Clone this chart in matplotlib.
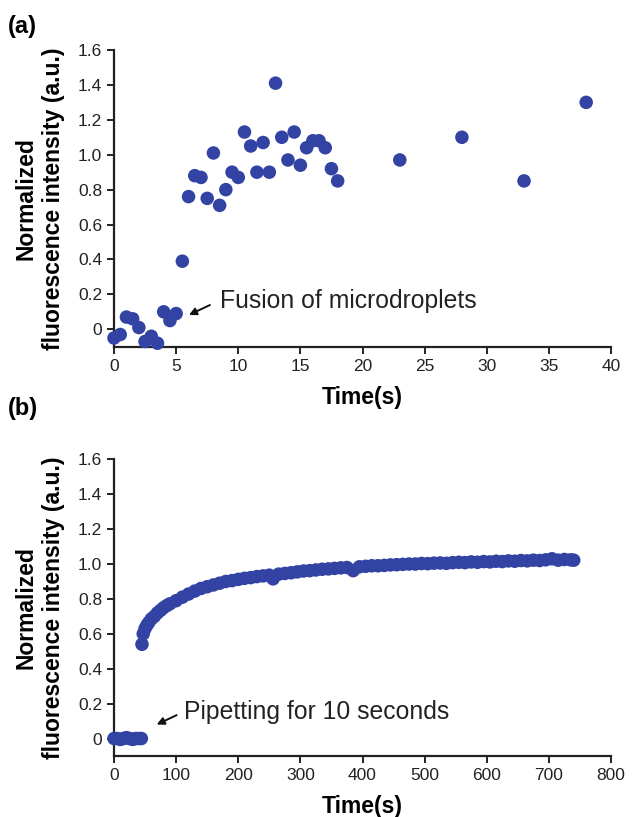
import matplotlib.pyplot as plt

plt.rcParams['font.family'] = ['Liberation Sans', 'DejaVu Sans']

blue = '#3343a3'

# panel (a): fusion of microdroplets
time_a = [0, 0.5, 1, 1.5, 2, 2.5, 3, 3.5, 4, 4.5, 5, 5.5, 6, 6.5, 7, 7.5, 8, 8.5,
          9, 9.5, 10, 10.5, 11, 11.5, 12, 12.5, 13, 13.5, 14, 14.5, 15, 15.5, 16,
          16.5, 17, 17.5, 18, 23, 28, 33, 38]
fluo_a = [-0.05, -0.03, 0.07, 0.06, 0.01, -0.07, -0.04, -0.08, 0.10, 0.05, 0.09,
          0.39, 0.76, 0.88, 0.87, 0.75, 1.01, 0.71, 0.80, 0.90, 0.87, 1.13, 1.05,
          0.90, 1.07, 0.90, 1.41, 1.10, 0.97, 1.13, 0.94, 1.04, 1.08, 1.08, 1.04,
          0.92, 0.85, 0.97, 1.10, 0.85, 1.30]

# panel (b): pipetting
time_b = [0, 5, 10, 15, 20, 25, 30, 35, 40, 44,
          45, 47, 50, 53, 56, 60, 65, 70, 75, 80, 85, 90, 100, 110, 120, 130, 140,
          150, 160, 170, 180, 190, 200, 210, 220, 230, 240, 250, 256, 265, 275,
          285, 295, 305, 315, 325, 335, 345, 355, 365, 375, 385, 395, 405, 415,
          425, 435, 445, 455, 465, 475, 485, 495, 505, 515, 525, 535, 545, 555,
          565, 575, 585, 595, 605, 615, 625, 635, 645, 655, 665, 675, 685, 695,
          705, 715, 725, 735, 740]
fluo_b = [0.0, 0.0, -0.005, 0.0, 0.005, 0.0, -0.005, 0.0, 0.0, 0.0,
          0.54, 0.60, 0.63, 0.65, 0.665, 0.685, 0.70, 0.72, 0.735, 0.75, 0.762,
          0.772, 0.79, 0.81, 0.828, 0.845, 0.86, 0.87, 0.88, 0.89, 0.90, 0.905,
          0.912, 0.918, 0.922, 0.928, 0.932, 0.936, 0.915, 0.942, 0.946, 0.95,
          0.955, 0.96, 0.962, 0.966, 0.97, 0.972, 0.975, 0.978, 0.98, 0.962,
          0.984, 0.987, 0.99, 0.99, 0.992, 0.995, 0.996, 0.998, 1.0, 1.0, 1.003,
          1.002, 1.005, 1.006, 1.004, 1.008, 1.01, 1.008, 1.012, 1.01, 1.014,
          1.012, 1.016, 1.014, 1.018, 1.016, 1.02, 1.018, 1.022, 1.02, 1.024,
          1.03, 1.022, 1.026, 1.024, 1.022]

yticks = [0, 0.2, 0.4, 0.6, 0.8, 1.0, 1.2, 1.4, 1.6]
ytick_labels = ['0', '0.2', '0.4', '0.6', '0.8', '1.0', '1.2', '1.4', '1.6']

fig = plt.figure(figsize=(6.32, 8.17), dpi=100)
ax_a = fig.add_axes([0.1804, 0.5756, 0.7864, 0.3632])
ax_b = fig.add_axes([0.1804, 0.0747, 0.7864, 0.3631])


def style(ax, xmax, xstep):
    ax.set_ylim(-0.1, 1.6)
    ax.set_xlim(0, xmax)
    ax.set_yticks(yticks)
    ax.set_yticklabels(ytick_labels)
    ax.set_xticks(range(0, xmax + 1, xstep))
    for s in ['top', 'right']:
        ax.spines[s].set_visible(False)
    for s in ['left', 'bottom']:
        ax.spines[s].set_linewidth(1.6)
        ax.spines[s].set_color('#222222')
    ax.tick_params(direction='out', length=5, width=1.4, labelsize=12.5,
                   colors='#222222', pad=3.5)
    ax.set_xlabel('Time(s)', fontsize=16.5, fontweight='bold', labelpad=9)
    ax.set_ylabel('Normalized\nfluorescence intensity (a.u.)', fontsize=16.5,
                  fontweight='bold', labelpad=9, linespacing=1.3)


def arrow(ax, text, head, tail, text_pos):
    ax.annotate('', xy=head, xytext=tail,
                arrowprops=dict(arrowstyle='-|>', color='#111111', lw=1.4,
                                mutation_scale=11, shrinkA=0, shrinkB=0))
    ax.text(text_pos[0], text_pos[1], text, fontsize=17.8, va='center',
            ha='left', color='#222222')


ax_a.scatter(time_a, fluo_a, s=95, color=blue, edgecolors='none', clip_on=False, zorder=3)
style(ax_a, 40, 5)
arrow(ax_a, 'Fusion of microdroplets', (6.03, 0.082), (7.72, 0.139), (8.5, 0.16))

ax_b.scatter(time_b, fluo_b, s=95, color=blue, edgecolors='none', clip_on=False, zorder=3)
style(ax_b, 800, 100)
arrow(ax_b, 'Pipetting for 10 seconds', (68.7, 0.08), (100.8, 0.134), (113, 0.15))

fig.text(0.013, 0.968, '(a)', fontsize=17, fontweight='bold', va='center')
fig.text(0.013, 0.500, '(b)', fontsize=17, fontweight='bold', va='center')

fig.savefig('out.png', dpi=100)
